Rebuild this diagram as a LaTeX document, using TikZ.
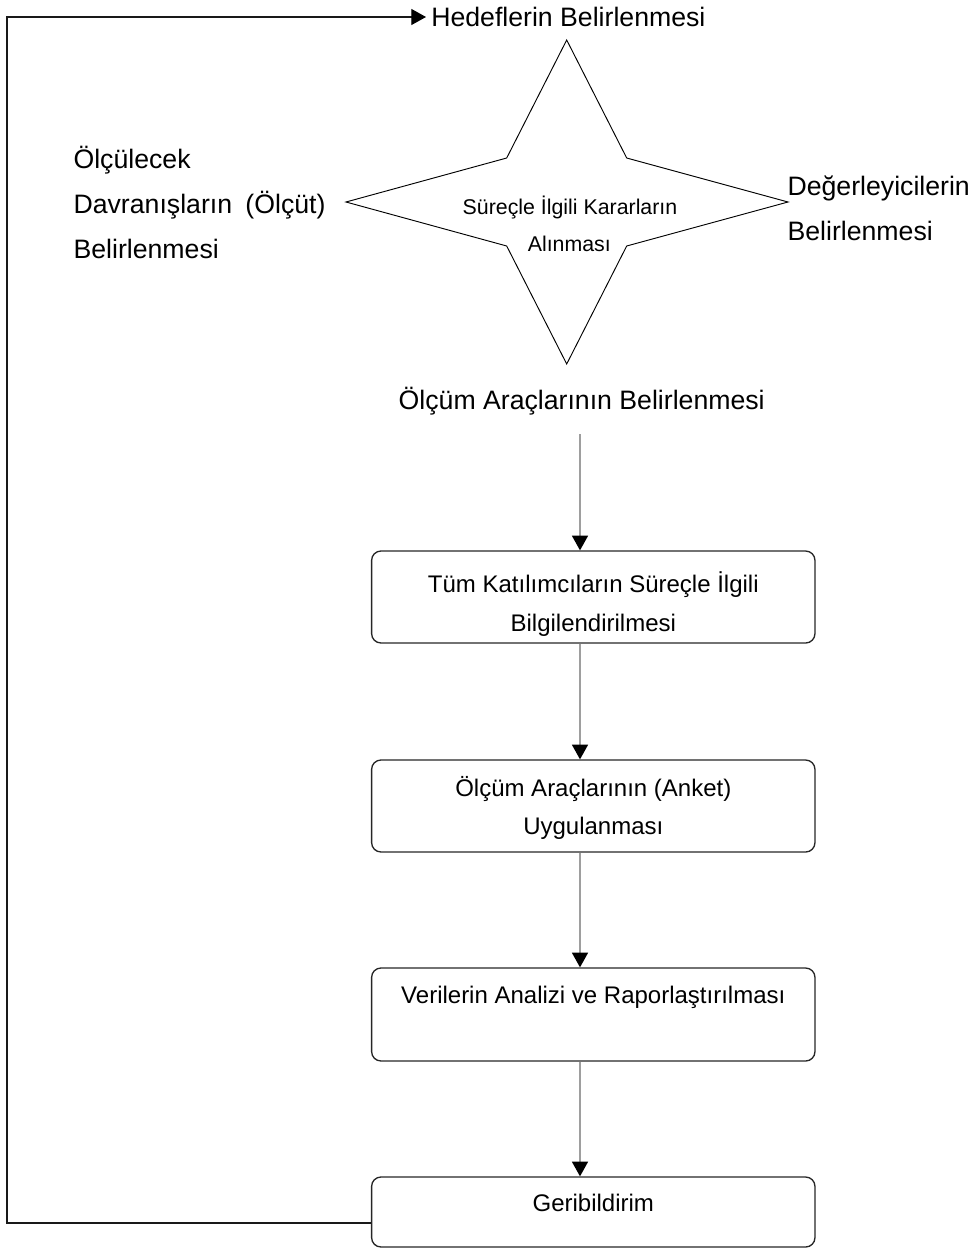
\documentclass[tikz,border=0pt]{standalone}
\usepackage{fontspec}
\setmainfont{Liberation Sans}
\usetikzlibrary{arrows.meta}
\begin{document}
\begin{tikzpicture}[x=0.75pt,y=-0.75pt,
  big/.style={inner sep=0pt, font=\fontsize{20}{24}\selectfont},
  mid/.style={inner sep=0pt, anchor=base, font=\fontsize{18}{22}\selectfont},
  small/.style={inner sep=0pt, anchor=base, font=\fontsize{16}{19}\selectfont},
  box/.style={draw=black!85, line width=1pt, rounded corners=7pt, minimum width=332.5pt, inner sep=0pt},
  tip/.style={-{Triangle[color=black, fill=black, length=11pt, width=12pt]}},
  conn/.style={tip, draw=black!38, line width=1pt},
  fbline/.style={tip, draw=black!90, line width=0.8pt},
  starline/.style={draw=black, line width=0.7pt}
]
\useasboundingbox (0,0) rectangle (972,1250);

% star
\draw[starline] (566.7,40) -- (626.7,158) -- (788,202) -- (626.7,246) -- (566.7,364)
  -- (506.7,246) -- (346,202) -- (506.7,158) -- cycle;
\node[small] (st1) at (570,214.3) {Süreçle İlgili Kararların};
\node[small] (st2) at (569.3,251) {Alınması};

% top label
\node[big, anchor=base west] (hed) at (431,26.7) {Hedeflerin Belirlenmesi};

% left labels
\node[big, anchor=base west] (l1) at (73.3,168.3) {Ölçülecek};
\node[big, anchor=base west] (l2) at (73.3,213.3) {Davranışların\hspace{0.5em}(Ölçüt)};
\node[big, anchor=base west] (l3) at (73.3,258.3) {Belirlenmesi};

% right labels
\node[big, anchor=base west] (r1) at (787.3,195) {Değerleyicilerin};
\node[big, anchor=base west] (r2) at (787.3,240) {Belirlenmesi};

% middle label
\node[big, anchor=base] (olc) at (581.7,409.5) {Ölçüm Araçlarının Belirlenmesi};

% boxes
\node[box, minimum height=69pt] (b1) at (593.3,597) {};
\node[mid] (t1a) at (593.3,592) {Tüm Katılımcıların Süreçle İlgili};
\node[mid] (t1b) at (593.3,631) {Bilgilendirilmesi};

\node[box, minimum height=69pt] (b2) at (593.3,806) {};
\node[mid] (t2a) at (593.3,796) {Ölçüm Araçlarının (Anket)};
\node[mid] (t2b) at (593.3,834) {Uygulanması};

\node[box, minimum height=69.75pt] (b3) at (593.3,1014.5) {};
\node[mid] (t3) at (593.3,1003) {Verilerin Analizi ve Raporlaştırılması};

\node[box, minimum height=52.5pt] (b4) at (593.3,1212) {};
\node[mid] (t4) at (593.3,1211) {Geribildirim};

% connectors
\coordinate (olcbot) at (580,434);
\draw[conn] (olcbot) -- (b1.north -| olcbot);
\draw[conn] (b1.south -| olcbot) -- (b2.north -| olcbot);
\draw[conn] (b2.south -| olcbot) -- (b3.north -| olcbot);
\draw[conn] (b3.south -| olcbot) -- (b4.north -| olcbot);

% feedback loop
\coordinate (fbstart) at ([yshift=-8.25pt]b4.west);
\coordinate (c1) at (7,1223);
\coordinate (c2) at (7,17);
\coordinate (hedtip) at ([xshift=-3.75pt]hed.west);
\draw[fbline] (fbstart) -- (c1) -- (c2) -- (hedtip |- c2);
\end{tikzpicture}
\end{document}
